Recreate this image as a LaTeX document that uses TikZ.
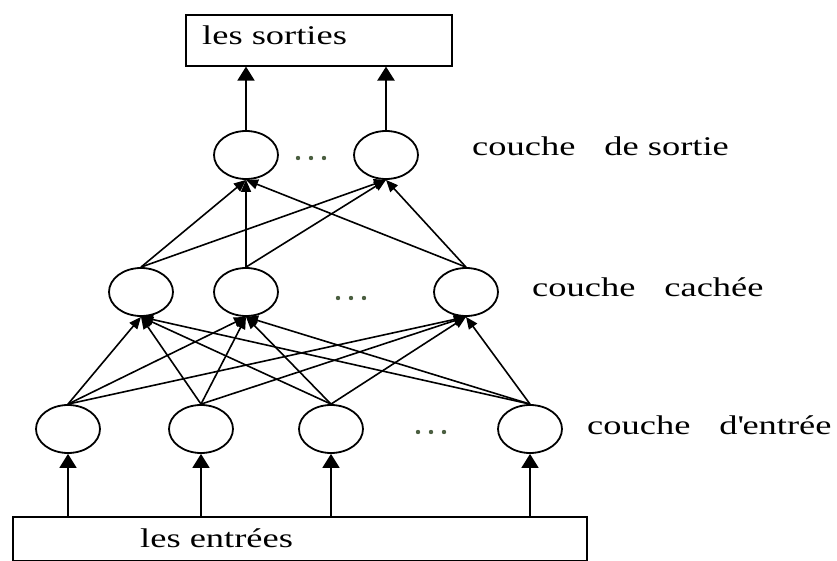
\documentclass[tikz,border=0pt]{standalone}
\usepackage{fontspec}
\setmainfont{Liberation Serif}[FakeStretch=1.35]
\usetikzlibrary{arrows.meta,shapes.geometric}

\begin{document}
\begin{tikzpicture}[x=1pt,y=-1pt,
  neuron/.style={draw, ellipse, line width=1.8pt, minimum width=64pt, minimum height=48pt, inner sep=0pt},
  layerbox/.style={draw, line width=1.6pt, anchor=north west, inner sep=0pt},
  label/.style={anchor=base west, inner sep=0pt, font=\fontsize{27}{32}\selectfont},
  link/.style={line width=1.6pt, -{Triangle[length=12pt,width=10pt]}},
  feed/.style={line width=1.8pt, -{Triangle[length=14pt,width=17pt]}},
  dotfill/.style={fill={rgb,255:red,75;green,95;blue,65}}
]
% canvas
\path[fill=white] (0,0) rectangle (837,561);
\useasboundingbox (0,0) rectangle (837,561);

% output and input boxes
\node[layerbox, minimum width=266pt, minimum height=51pt] (top) at (185,14) {};
\node[layerbox, minimum width=574pt, minimum height=44pt] (bot) at (12,516) {};
\node[label] (toptext) at (202,45) {les sorties};
\node[label] (bottext) at (140,547) {les entrées};

% neurons
\node[neuron] (O1) at (246,155) {};
\node[neuron] (O2) at (386,155) {};
\node[neuron] (H1) at (141,292) {};
\node[neuron] (H2) at (246,292) {};
\node[neuron] (H3) at (466,292) {};
\node[neuron] (I1) at (68,429) {};
\node[neuron] (I2) at (201,429) {};
\node[neuron] (I3) at (331,429) {};
\node[neuron] (I4) at (530,429) {};

% layer names
\node[label] (lout) at (472,156) {couche\hspace{29pt}de sortie};
\node[label] (lhid) at (532,296) {couche\hspace{29pt}cachée};
\node[label] (lin) at (587,434) {couche\hspace{29pt}d\textquotesingle entrée};

% ellipsis dots
\foreach \x/\y in {298/158, 338/298, 418/432}{
  \foreach \k in {0,13,26}{
    \fill[dotfill] (\x+\k,\y) circle (2.2pt);
  }
}

% inputs into the input layer
\foreach \n in {I1,I2,I3,I4}{
  \draw[feed] (\n.south |- bot.north) -- (\n.south);
}

% input layer -> hidden layer
\foreach \s in {I1,I2,I3,I4}{
  \foreach \t in {H1,H2,H3}{
    \draw[link] (\s.north) -- (\t.south);
  }
}

% hidden layer -> output layer
\foreach \s in {H1,H2,H3}{
  \foreach \t in {O1,O2}{
    \draw[link] (\s.north) -- (\t.south);
  }
}

% output layer -> outputs
\draw[feed] (O1.north) -- (O1.north |- top.south);
\draw[feed, line width=2.4pt] (O2.north) -- (O2.north |- top.south);
\end{tikzpicture}
\end{document}
